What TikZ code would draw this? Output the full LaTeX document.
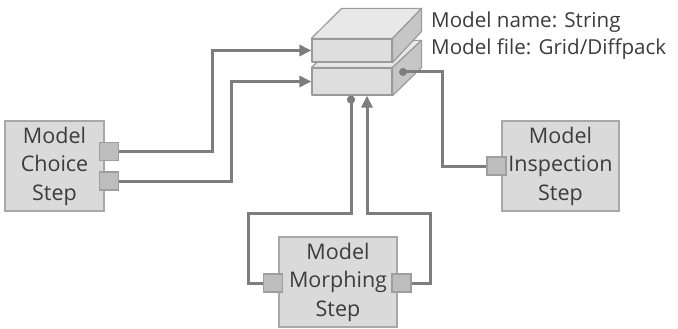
\documentclass[tikz,border=0pt]{standalone}
\usepackage{fontspec}
\setmainfont{Open Sans}
\usetikzlibrary{arrows.meta,backgrounds}
\definecolor{boxfill}{HTML}{DADADA}
\definecolor{boxline}{HTML}{A8A8A8}
\definecolor{portfill}{HTML}{BDBDBD}
\definecolor{portline}{HTML}{9E9E9E}
\definecolor{conncol}{HTML}{7D7D7D}
\definecolor{txtcol}{HTML}{3C3C3C}
\definecolor{facefront}{HTML}{DEDEDE}
\definecolor{facetop}{HTML}{E8E8E8}
\definecolor{faceside}{HTML}{C6C6C6}
\definecolor{faceedge}{HTML}{9A9A9A}
\tikzset{
  stepbox/.style={draw=boxline, fill=boxfill, line width=1.5pt, inner sep=0pt, align=center,
    text=txtcol, font=\fontsize{21.5}{28.5}\selectfont},
  portbox/.style={draw=portline, fill=portfill, line width=1.2pt, inner sep=0pt,
    minimum width=19pt, minimum height=18pt},
  face/.style={draw=faceedge, line width=1.2pt, line join=round},
  conn/.style={draw=conncol, line width=3pt},
  arr/.style={-{Triangle[length=12pt,width=11pt]}},
  dotend/.style={-{Circle[length=8pt]}},
  lbl/.style={text=txtcol, font=\fontsize{20.6}{28}\selectfont, inner sep=0pt, anchor=base west}
}
\begin{document}
\begin{tikzpicture}[x=1pt,y=-1pt]
\useasboundingbox (0,0) rectangle (678,329);
% stacked model boxes
\node[face, fill=facefront, minimum width=80pt, minimum height=27pt, inner sep=0pt] (lowfront) at (352,81.5) {};
\draw[face, fill=facetop] (lowfront.north west) -- (lowfront.north east) -- ++(29,-27) -- ++(-80,0) -- cycle;
\draw[face, fill=faceside] (lowfront.north east) -- ++(29,-27) -- ++(0,27) -- (lowfront.south east) -- cycle;
\node[face, fill=facefront, minimum width=80pt, minimum height=23pt, inner sep=0pt] (topfront) at (352,50.5) {};
\draw[face, fill=facetop] (topfront.north west) -- (topfront.north east) -- ++(29,-30) -- ++(-80,0) -- cycle;
\draw[face, fill=faceside] (topfront.north east) -- ++(29,-30) -- ++(0,23) -- (topfront.south east) -- cycle;
% labels
\node[lbl] (lname) at (431,28) {Model name: String};
\node[lbl] (lfile) at (431,55) {Model file: Grid/Diffpack};
% step boxes
\node[stepbox, minimum width=99pt, minimum height=90pt] (choice) at (54.5,166) {Model\\Choice\\Step};
\node[stepbox, minimum width=117pt, minimum height=90pt] (insp) at (560.5,166) {Model\\Inspection\\Step};
\node[stepbox, minimum width=118pt, minimum height=90pt] (morph) at (338,282) {Model\\Morphing\\Step};
% ports
\node[portbox] (cp1) at (109,151.5) {};
\node[portbox] (cp2) at (109,181) {};
\node[portbox] (ip) at (496.5,166) {};
\node[portbox] (mpl) at (273,283) {};
\node[portbox] (mpr) at (401.5,283) {};
% output connector from the side of the model box
\coordinate (sdotc) at (403,72);
\draw[conn] (sdotc) -| ([xshift=-44pt]ip.west) -- (ip.west);
\node[circle, fill=conncol, inner sep=0pt, minimum size=8pt] (sdot) at (sdotc) {};
% other connectors (behind everything)
\begin{pgfonlayer}{background}
\draw[conn, arr] (cp1.east) -| ([xshift=-99pt]topfront.west) -- (topfront.west);
\draw[conn, arr] (cp2.east) -| ([xshift=-80pt]lowfront.west) -- (lowfront.west);
\draw[conn, dotend] (mpl.west) -| (248,213) -| ([xshift=-1pt]lowfront.south);
\draw[conn, arr] (mpr.east) -| (430,213) -| ([xshift=15pt]lowfront.south);
\end{pgfonlayer}
\end{tikzpicture}
\end{document}
